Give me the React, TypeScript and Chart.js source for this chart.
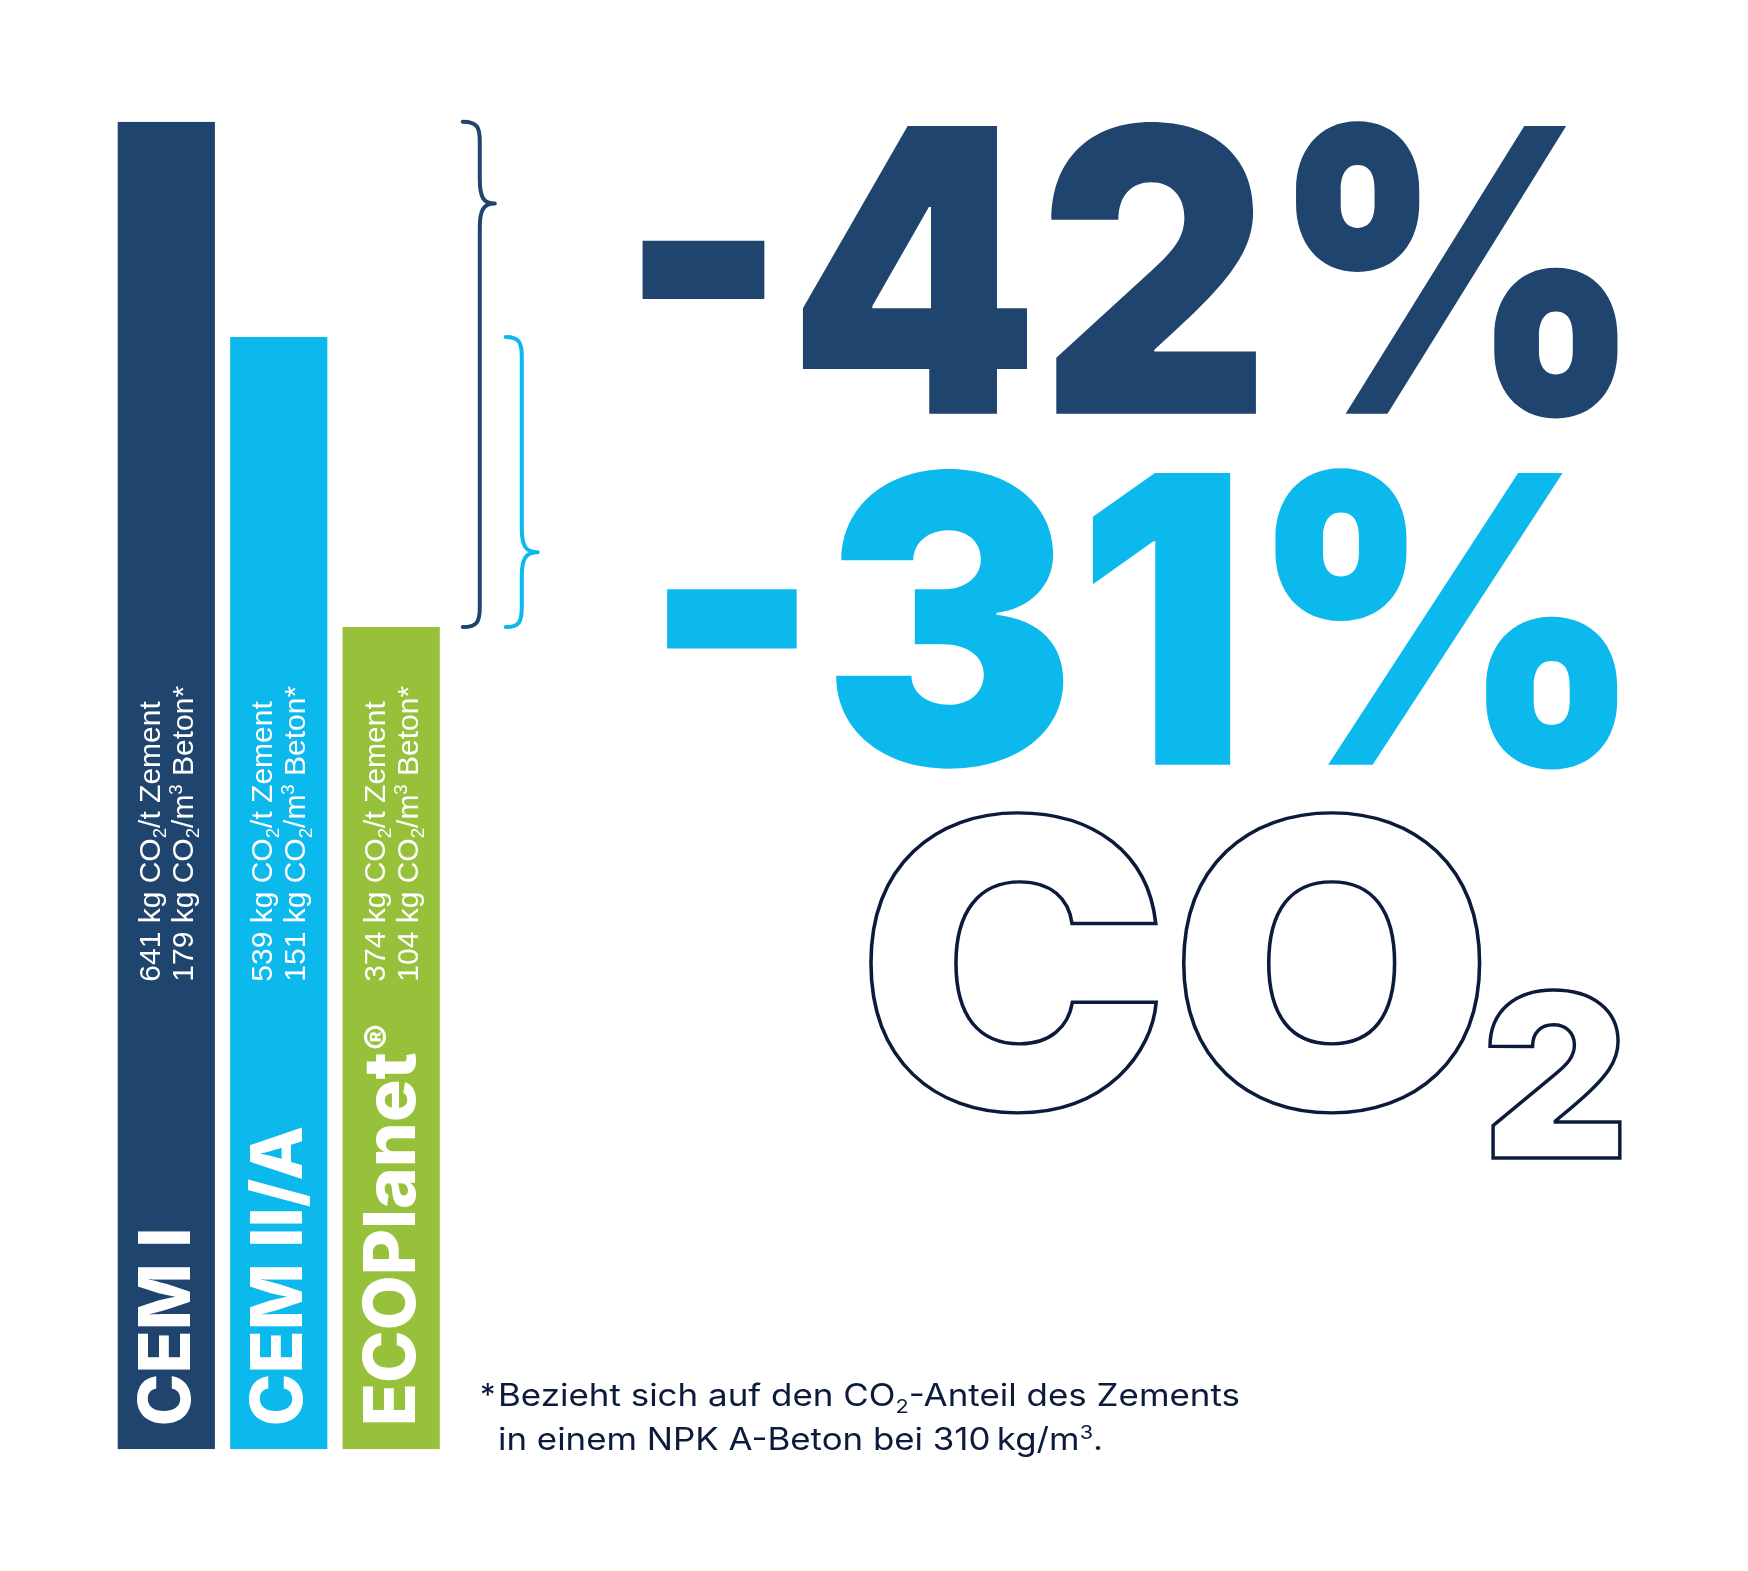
import React, { useEffect, useRef } from 'react';
import { Chart, registerables } from 'chart.js';

Chart.register(...registerables);

// ---- data read from the graphic ----
const categories = ['CEM I', 'CEM II/A', 'ECOPlanet'];
const categorySuffix = ['', '', '®'];
// bar heights as drawn in the graphic (kg CO2 / t cement scale, graphic is not strictly to scale)
const barValues = [641, 537, 397];
const cementCO2 = [641, 539, 374];
const concreteCO2 = [179, 151, 104];
const barColors = ['#1f446e', '#0cb9ec', '#97c13b'];
const reductionLabels = ['-42%', '-31%'];
const reductionColors = ['#1f446e', '#0cb9ec'];
const yMax = 641;

type Seg = { t: string; s?: 'sub' | 'sup' };
const footnoteStar = '*';
const footnoteLine1: Seg[] = [
  { t: 'Bezieht sich auf den CO' },
  { t: '2', s: 'sub' },
  { t: '-Anteil des Zements' },
];
const footnoteLine2: Seg[] = [
  { t: 'in einem NPK A-Beton bei 310\u2009kg/m' },
  { t: '3', s: 'sup' },
  { t: '.' },
];

const W = 1748;
const H = 1571;

const NAVY_TEXT = '#0c1b3b';

function segSize(size: number, s?: string) {
  return s ? size * 0.62 : size;
}

function richWidth(ctx: CanvasRenderingContext2D, segs: Seg[], fontFn: (n: number) => string, size: number) {
  let w = 0;
  for (const sg of segs) {
    ctx.font = fontFn(segSize(size, sg.s));
    w += ctx.measureText(sg.t).width;
  }
  return w;
}

function drawRich(
  ctx: CanvasRenderingContext2D,
  segs: Seg[],
  fontFn: (n: number) => string,
  size: number,
  x: number,
  y: number
) {
  let cx = x;
  for (const sg of segs) {
    const sz = segSize(size, sg.s);
    ctx.font = fontFn(sz);
    const dy = sg.s === 'sub' ? size * 0.22 : sg.s === 'sup' ? -size * 0.36 : 0;
    ctx.fillText(sg.t, cx, y + dy);
    cx += ctx.measureText(sg.t).width;
  }
  return cx;
}

function fitText(
  ctx: CanvasRenderingContext2D,
  text: string,
  font: string,
  box: { x0: number; y0: number; x1: number; y1: number },
  color: string,
  stroke?: number
) {
  ctx.save();
  ctx.font = font;
  ctx.textAlign = 'left';
  ctx.textBaseline = 'alphabetic';
  const m = ctx.measureText(text);
  const inkL = -m.actualBoundingBoxLeft;
  const inkR = m.actualBoundingBoxRight;
  const inkT = -m.actualBoundingBoxAscent;
  const inkB = m.actualBoundingBoxDescent;
  let { x0, y0, x1, y1 } = box;
  if (stroke) {
    x0 += stroke / 2;
    y0 += stroke / 2;
    x1 -= stroke / 2;
    y1 -= stroke / 2;
  }
  const sx = (x1 - x0) / (inkR - inkL);
  const sy = (y1 - y0) / (inkB - inkT);
  ctx.translate(x0 - inkL * sx, y0 - inkT * sy);
  ctx.scale(sx, sy);
  if (stroke) {
    ctx.strokeStyle = color;
    ctx.lineWidth = stroke / Math.sqrt(sx * sy);
    ctx.lineJoin = 'miter';
    ctx.strokeText(text, 0, 0);
  } else {
    ctx.fillStyle = color;
    ctx.fillText(text, 0, 0);
  }
  ctx.restore();
}

function drawBrace(
  ctx: CanvasRenderingContext2D,
  xv: number,
  xe: number,
  xt: number,
  top: number,
  bottom: number,
  tip: number,
  color: string
) {
  const rEnd = 20;
  const rTip = 14;
  ctx.save();
  ctx.strokeStyle = color;
  ctx.lineWidth = 4;
  ctx.lineCap = 'round';
  ctx.lineJoin = 'round';
  ctx.beginPath();
  ctx.moveTo(xe, top);
  ctx.bezierCurveTo(xv - 2, top, xv, top + 6, xv, top + rEnd);
  ctx.lineTo(xv, tip - rTip - 10);
  ctx.bezierCurveTo(xv, tip - 6, xv + 4, tip, xt, tip);
  ctx.bezierCurveTo(xv + 4, tip, xv, tip + 6, xv, tip + rTip + 10);
  ctx.lineTo(xv, bottom - rEnd);
  ctx.bezierCurveTo(xv, bottom - 6, xv - 2, bottom, xe, bottom);
  ctx.stroke();
  ctx.restore();
}

const overlayPlugin = {
  id: 'overlay',
  afterDatasetsDraw(chart: any) {
    const ctx: CanvasRenderingContext2D = chart.ctx;
    const meta = chart.getDatasetMeta(0);
    const yScale = chart.scales.y;

    // ---- text inside bars (rotated) ----
    const catFont = (n: number) => `800 ${n}px Inter, "Open Sans", sans-serif`;
    const valFont = (n: number) => `400 ${n}px "Liberation Sans", Arial, sans-serif`;
    meta.data.forEach((el: any, i: number) => {
      const p = el.getProps(['x', 'y', 'base', 'width'], true);
      const left = p.x - p.width / 2;
      const bottom = p.base;

      ctx.save();
      ctx.fillStyle = '#ffffff';
      ctx.textAlign = 'left';
      ctx.textBaseline = 'alphabetic';

      // category label
      ctx.save();
      ctx.translate(left + 72, bottom - 23);
      ctx.rotate(-Math.PI / 2);
      ctx.font = catFont(71);
      ctx.fillText(categories[i], 0, 0);
      if (categorySuffix[i]) {
        const w = ctx.measureText(categories[i]).width;
        ctx.font = catFont(40);
        ctx.fillText(categorySuffix[i], w + 2, -22);
      }
      ctx.restore();

      // value labels
      ctx.save();
      ctx.translate(left, bottom - 467.6);
      ctx.rotate(-Math.PI / 2);
      const line1: Seg[] = [
        { t: `${cementCO2[i]} kg CO` },
        { t: '2', s: 'sub' },
        { t: '/t Zement' },
      ];
      const line2: Seg[] = [
        { t: `${concreteCO2[i]} kg CO` },
        { t: '2', s: 'sub' },
        { t: '/m' },
        { t: '3', s: 'sup' },
        { t: ' Beton*' },
      ];
      drawRich(ctx, line1, valFont, 30, 0, 42);
      drawRich(ctx, line2, valFont, 30, 0, 75);
      ctx.restore();

      ctx.restore();
    });

    // ---- braces ----
    const last: any = meta.data[meta.data.length - 1].getProps(['x', 'width', 'y'], true);
    const lastRight = last.x + last.width / 2;
    const yTop0 = yScale.getPixelForValue(barValues[0]);
    const yTop1 = yScale.getPixelForValue(barValues[1]);
    const yTop2 = yScale.getPixelForValue(barValues[2]);
    drawBrace(
      ctx,
      lastRight + 40,
      lastRight + 23,
      lastRight + 55,
      yTop0,
      yTop2,
      yTop0 + (yTop2 - yTop0) * 0.162,
      barColors[0]
    );
    drawBrace(
      ctx,
      lastRight + 82,
      lastRight + 66,
      lastRight + 98,
      yTop1,
      yTop2,
      yTop1 + (yTop2 - yTop1) * 0.742,
      barColors[1]
    );

    // ---- big reduction numbers ----
    const bigFont = `900 400px Inter, Lato, "Open Sans", sans-serif`;
    fitText(ctx, reductionLabels[0], bigFont, { x0: 641, y0: 117, x1: 1622, y1: 420 }, reductionColors[0]);
    fitText(ctx, reductionLabels[1], bigFont, { x0: 665.5, y0: 464, x1: 1622, y1: 771 }, reductionColors[1]);

    // ---- outlined CO2 ----
    const coFont = `900 410px Inter, Lato, "Open Sans", sans-serif`;
    fitText(ctx, 'CO', coFont, { x0: 868, y0: 806, x1: 1485, y1: 1117 }, NAVY_TEXT, 3.5);
    const subFont = `900 240px Inter, Lato, "Open Sans", sans-serif`;
    fitText(ctx, '2', subFont, { x0: 1488, y0: 988, x1: 1622, y1: 1160 }, NAVY_TEXT, 3.5);

    // ---- footnote ----
    const fnFont = (n: number) => `400 ${n}px Inter, "Noto Sans", sans-serif`;
    ctx.save();
    ctx.fillStyle = NAVY_TEXT;
    ctx.textAlign = 'left';
    ctx.textBaseline = 'alphabetic';
    ctx.font = fnFont(31);
    ctx.fillText(footnoteStar, 480, 1405.7);
    const w1 = richWidth(ctx, footnoteLine1, fnFont, 31);
    ctx.save();
    ctx.translate(498, 1405.7);
    ctx.scale(742 / w1, 1);
    drawRich(ctx, footnoteLine1, fnFont, 31, 0, 0);
    ctx.restore();
    const w2 = richWidth(ctx, footnoteLine2, fnFont, 31);
    ctx.save();
    ctx.translate(498, 1450);
    ctx.scale(605 / w2, 1);
    drawRich(ctx, footnoteLine2, fnFont, 31, 0, 0);
    ctx.restore();
    ctx.restore();
  },
};

export default function App() {
  const canvasRef = useRef<HTMLCanvasElement | null>(null);

  useEffect(() => {
    const canvas = canvasRef.current;
    if (!canvas) return;
    const chart = new Chart(canvas, {
      type: 'bar',
      data: {
        labels: categories,
        datasets: [
          {
            data: barValues,
            backgroundColor: barColors,
            borderWidth: 0,
            categoryPercentage: 1,
            barPercentage: 0.8645,
          },
        ],
      },
      options: {
        responsive: false,
        animation: false,
        devicePixelRatio: 1,
        layout: {
          padding: { left: 110.1, right: W - 447.4, top: 121.7, bottom: H - 1449.3 },
        },
        plugins: {
          legend: { display: false },
          tooltip: { enabled: false },
        },
        scales: {
          x: { display: false },
          y: { display: false, min: 0, max: yMax },
        },
      },
      plugins: [overlayPlugin],
    } as any);
    return () => chart.destroy();
  }, []);

  return (
    <div style={{ position: 'absolute', left: 0, top: 0, width: W, height: H, background: '#ffffff' }}>
      <canvas ref={canvasRef} width={W} height={H} style={{ display: 'block', width: W, height: H }} />
    </div>
  );
}
